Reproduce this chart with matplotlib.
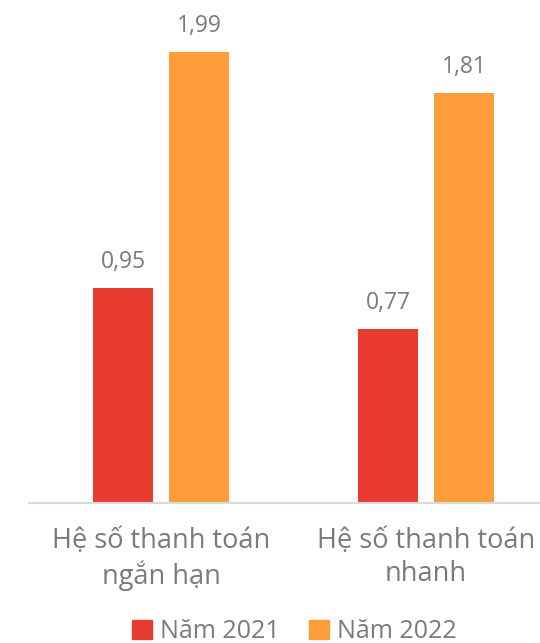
import matplotlib.pyplot as plt
import numpy as np
from matplotlib.patches import Patch

categories = ['Hệ số thanh toán\nngắn hạn', 'Hệ số thanh toán\nnhanh']
series_names = ['Năm 2021', 'Năm 2022']
v2021 = [0.95, 0.77]
v2022 = [1.99, 1.81]

red = '#E83B32'
orange = '#FF9D3A'
grey = '#7A7A7A'
plt.rcParams['font.family'] = ['Open Sans', 'DejaVu Sans']

fig = plt.figure(figsize=(5.4, 6.43), dpi=100)
ax = fig.add_axes([28.5/540, 140/643, 530/540, 0.7753])

x = np.arange(len(categories))
w = 0.2264
off = 0.1434
b1 = ax.bar(x - off, v2021, w, color=red)
b2 = ax.bar(x + off, v2022, w, color=orange)

for bars, vals in [(b1, v2021), (b2, v2022)]:
    for b, v in zip(bars, vals):
        ax.annotate(f'{v:.2f}'.replace('.', ','), (b.get_x() + b.get_width()/2, v),
                    xytext=(0, 10), textcoords='offset points', ha='center', va='bottom',
                    fontsize=16.5, color=grey)

ax.set_xlim(-0.5, 1.5)
ax.set_ylim(0, 2.2)
ax.set_xticks(x)
ax.set_xticklabels(categories, fontsize=19.5, color=grey, linespacing=1.2)
ax.tick_params(axis='x', length=0, pad=17.5)
ax.set_yticks([])
for s in ['top', 'right', 'left']:
    ax.spines[s].set_visible(False)
ax.spines['bottom'].set_color('#D9D9D9')
ax.spines['bottom'].set_linewidth(1.5)

handles = [Patch(color=red), Patch(color=orange)]
fig.legend(handles, series_names, loc='center', bbox_to_anchor=(0.545, 11/643),
           ncol=2, frameon=False, fontsize=18, handlelength=0.8, handleheight=0.8,
           handletextpad=0.3, columnspacing=1.2, labelcolor=grey)

fig.savefig('out.png', dpi=100)
